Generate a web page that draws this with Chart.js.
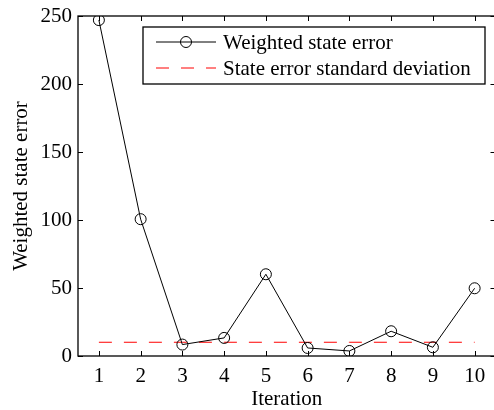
<!DOCTYPE html>
<html>
<head>
<meta charset="utf-8">
<script src="https://cdn.jsdelivr.net/npm/chart.js@4/dist/chart.umd.min.js"></script>
<style>
    html, body { margin: 0; padding: 0; background: #fff; overflow: hidden; }
    #marco { width: 494px; height: 410px; overflow: hidden; }
</style>
</head>
<body>
<div id="marco"><canvas id="grafica" width="502" height="412"></canvas></div>
<script>
// Datos
const iterations = [1, 2, 3, 4, 5, 6, 7, 8, 9, 10];
const weightedError = [247, 100.6, 8.4, 13.3, 60.1, 5.9, 3.7, 18.2, 6.4, 49.8];
const stdDeviation = [10.1, 10.1, 10.1, 10.1, 10.1, 10.1, 10.1, 10.1, 10.1, 10.1];
const yTicks = [0, 50, 100, 150, 200, 250];
const seriesLabels = ['Weighted state error', 'State error standard deviation'];

const serif = "'Liberation Serif', 'Times New Roman', serif";
const fuente = { family: serif, size: 21 };

// Marco del eje con marcas hacia dentro (estilo MATLAB)
const marcoEjes = {
    id: 'marcoEjes',
    afterDatasetsDraw(chart) {
        const { ctx, chartArea: a, scales } = chart;
        ctx.save();
        ctx.strokeStyle = '#000';
        ctx.lineWidth = 1;
        ctx.beginPath();
        yTicks.forEach(v => {
            const y = Math.round(scales.y.getPixelForValue(v)) + 0.5;
            ctx.moveTo(a.left, y); ctx.lineTo(a.left + 5, y);
            ctx.moveTo(a.right, y); ctx.lineTo(a.right - 5, y);
        });
        iterations.forEach(v => {
            const x = Math.round(scales.x.getPixelForValue(v)) + 0.5;
            ctx.moveTo(x, a.bottom); ctx.lineTo(x, a.bottom - 5);
            ctx.moveTo(x, a.top); ctx.lineTo(x, a.top + 5);
        });
        ctx.stroke();
        ctx.lineWidth = 1.3;
        ctx.strokeRect(a.left, a.top, a.right - a.left, a.bottom - a.top);
        ctx.restore();
    }
};

// Leyenda dentro del área de la gráfica
const leyenda = {
    id: 'leyenda',
    afterDraw(chart) {
        const { ctx, chartArea: a } = chart;
        const x0 = a.left + 65, y0 = a.top + 11, w = 342, h = 57;
        ctx.save();
        ctx.fillStyle = '#fff';
        ctx.fillRect(x0, y0, w, h);
        ctx.strokeStyle = '#000';
        ctx.lineWidth = 1.3;
        ctx.strokeRect(x0, y0, w, h);

        const ds = chart.data.datasets;
        const filas = [y0 + 15, y0 + 41];
        ds.forEach((d, i) => {
            const y = filas[i];
            ctx.strokeStyle = d.borderColor;
            ctx.lineWidth = 1;
            ctx.setLineDash(d.borderDash || []);
            ctx.beginPath();
            ctx.moveTo(x0 + 13, y);
            ctx.lineTo(x0 + 73, y);
            ctx.stroke();
            ctx.setLineDash([]);
            if (d.pointRadius > 0) {
                ctx.beginPath();
                ctx.arc(x0 + 43, y, d.pointRadius, 0, Math.PI * 2);
                ctx.stroke();
            }
            ctx.fillStyle = '#000';
            ctx.font = `21px ${serif}`;
            ctx.textBaseline = 'middle';
            ctx.fillText(d.label, x0 + 80, y + 1);
        });
        ctx.restore();
    }
};

const ctx = document.getElementById('grafica').getContext('2d');
const myChart = new Chart(ctx, {
    type: 'line',
    data: {
        datasets: [{
            label: seriesLabels[0],
            data: iterations.map((it, i) => ({ x: it, y: weightedError[i] })),
            borderColor: '#000',
            borderWidth: 1,
            pointRadius: 5.5,
            pointBorderWidth: 1,
            pointBorderColor: '#000',
            pointBackgroundColor: 'rgba(0,0,0,0)',
            tension: 0
        }, {
            label: seriesLabels[1],
            data: iterations.map((it, i) => ({ x: it, y: stdDeviation[i] })),
            borderColor: '#ff0000',
            borderWidth: 1,
            borderDash: [13, 12],
            pointRadius: 0,
            tension: 0
        }]
    },
    options: {
        responsive: false,
        animation: false,
        events: [],
        layout: { padding: { left: 0, top: 16, right: 2.5, bottom: 0 } },
        plugins: {
            legend: { display: false },
            tooltip: { enabled: false }
        },
        scales: {
            x: {
                type: 'linear',
                min: 0.5,
                max: 10.5,
                afterBuildTicks: s => { s.ticks = iterations.map(v => ({ value: v })); },
                afterFit: s => { s.height = 56; s.paddingLeft = 0; s.paddingRight = 0; },
                grid: { display: false, drawTicks: false },
                border: { display: false },
                ticks: { color: '#000', font: fuente, padding: 8, maxRotation: 0 },
                title: { display: true, text: 'Iteration', color: '#000', font: fuente, padding: { top: 0, bottom: 0 } }
            },
            y: {
                min: 0,
                max: 250,
                afterBuildTicks: s => { s.ticks = yTicks.map(v => ({ value: v })); },
                afterFit: s => { s.width = 78; s.paddingTop = 0; s.paddingBottom = 0; },
                grid: { display: false, drawTicks: false },
                border: { display: false },
                ticks: { color: '#000', font: fuente, padding: 6 },
                title: { display: true, text: 'Weighted state error', color: '#000', font: fuente, padding: { top: 9, bottom: 0 } }
            }
        }
    },
    plugins: [marcoEjes, leyenda]
});
</script>
</body>
</html>
